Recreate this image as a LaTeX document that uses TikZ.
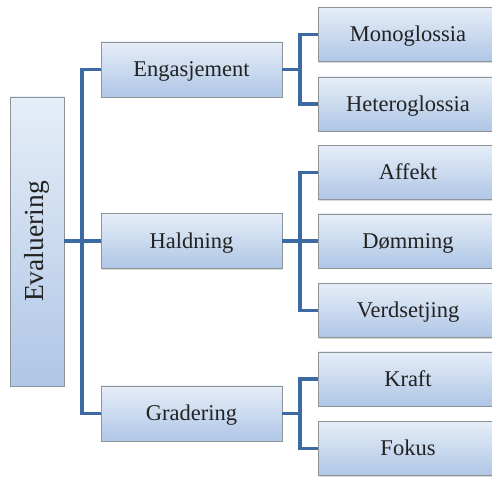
\documentclass[tikz,border=0pt]{standalone}
\usepackage{fontspec}
\setmainfont{Liberation Serif}
\usetikzlibrary{shadows}
\definecolor{linkblue}{HTML}{3D6AA2}
\definecolor{boxtop}{HTML}{E6EEF8}
\definecolor{boxbot}{HTML}{AFC6E6}
\definecolor{boxedge}{HTML}{8E9398}
\definecolor{txt}{HTML}{222222}
\tikzset{
  box/.style={rectangle, draw=boxedge, line width=0.8pt, top color=boxtop, bottom color=boxbot,
    drop shadow={opacity=0.3, shadow xshift=1.2pt, shadow yshift=-1.5pt},
    inner sep=0pt, text=txt, font=\fontsize{22.5}{24}\selectfont,
    text height=14.5pt, text depth=0pt},
  midbox/.style={box, minimum width=181pt, minimum height=55pt},
  leafbox/.style={box, minimum width=180pt, minimum height=54pt},
  link/.style={draw=linkblue, line width=3.3pt}
}
\begin{document}
\begin{tikzpicture}[x=1pt,y=1pt]
\useasboundingbox (0,0) rectangle (492,476);
\clip (0,0) rectangle (492,476);
% nodes
\node[box, minimum width=54pt, minimum height=289pt] (ev) at (37,234.5) {};
\node[rotate=90, text=txt, font=\fontsize{27.5}{30}\selectfont] (evt) at (ev.center) {Evaluering};
\node[midbox] (eng) at (191.5,406.5) {Engasjement};
\node[midbox] (hald) at (191.5,235) {Haldning};
\node[midbox] (grad) at (191.5,62.5) {Gradering};
\node[leafbox] (mono) at (408,441.5) {Monoglossia};
\node[leafbox] (hetero) at (408,372) {Heteroglossia};
\node[leafbox] (aff) at (408,303.5) {Affekt};
\node[leafbox] (dom) at (408,235) {Dømming};
\node[leafbox] (verd) at (408,165.5) {Verdsetjing};
\node[leafbox] (kraft) at (408,97) {Kraft};
\node[leafbox] (fok) at (408,27.5) {Fokus};
% bus coordinates
\coordinate (b1) at (82,0);
\coordinate (b2) at (300,0);
% connectors
\draw[link] (ev.east |- hald.west) -- (hald.west);
\draw[link] (eng.west) -- (eng.west -| b1) -- (grad.west -| b1) -- (grad.west);
\draw[link] (eng.east) -- (eng.east -| b2);
\draw[link] (mono.west) -- (mono.west -| b2) -- (hetero.west -| b2) -- (hetero.west);
\draw[link] (hald.east) -- (dom.west);
\draw[link] (aff.west) -- (aff.west -| b2) -- (verd.west -| b2) -- (verd.west);
\draw[link] (grad.east) -- (grad.east -| b2);
\draw[link] (kraft.west) -- (kraft.west -| b2) -- (fok.west -| b2) -- (fok.west);
\end{tikzpicture}
\end{document}
